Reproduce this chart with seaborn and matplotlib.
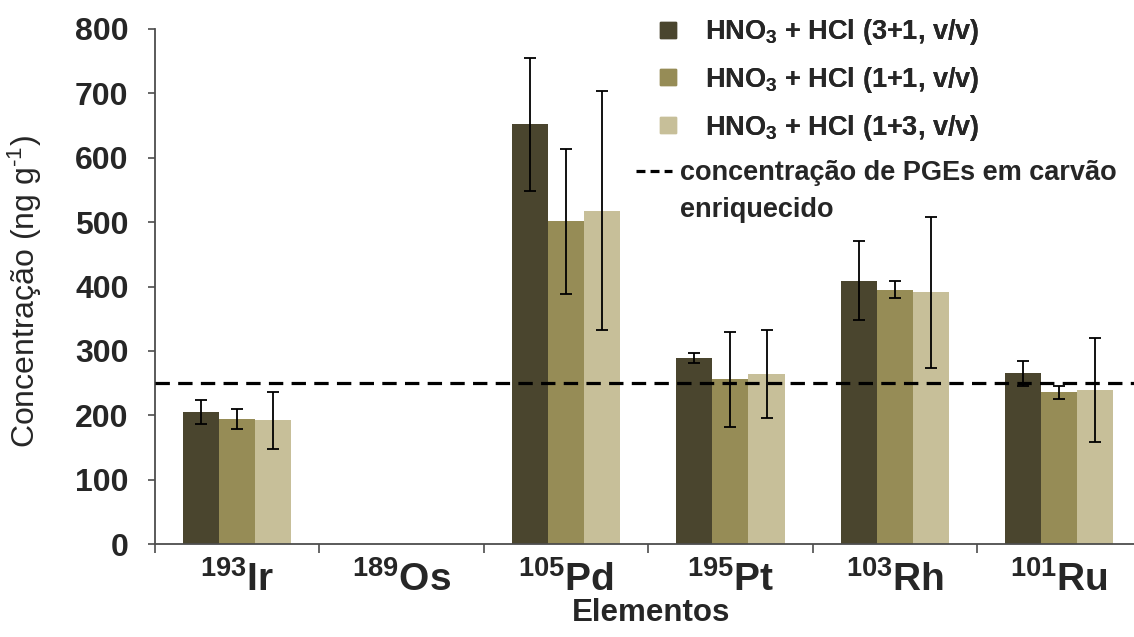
import numpy as np
import pandas as pd
import matplotlib
matplotlib.use("Agg")
import matplotlib.pyplot as plt
import seaborn as sns
from matplotlib.lines import Line2D

# ---------------- data ----------------
elements = ["Ir", "Os", "Pd", "Pt", "Rh", "Ru"]
mass_numbers = ["193", "189", "105", "195", "103", "101"]
methods = ["HNO3 + HCl (3+1, v/v)", "HNO3 + HCl (1+1, v/v)", "HNO3 + HCl (1+3, v/v)"]
method_labels = [r"HNO$_\mathbf{3}$ + HCl (3+1, v/v)",
                 r"HNO$_\mathbf{3}$ + HCl (1+1, v/v)",
                 r"HNO$_\mathbf{3}$ + HCl (1+3, v/v)"]
mean_31 = [205, np.nan, 652, 289, 409, 265]
mean_11 = [194, np.nan, 501, 256, 395, 236]
mean_13 = [192, np.nan, 518, 264, 391, 239]
sd_31 = [19, np.nan, 103, 8, 61, 19]
sd_11 = [15, np.nan, 113, 74, 13, 10]
sd_13 = [44, np.nan, 186, 69, 117, 81]
reference_level = 250
reference_label = "concentração de PGEs em carvão"
reference_label2 = "enriquecido"
colors = ["#4A452E", "#968C56", "#C7BF99"]

means = [mean_31, mean_11, mean_13]
sds = [sd_31, sd_11, sd_13]

df = pd.DataFrame({
    "elemento": [e for _ in methods for e in elements],
    "metodo": [m for m in methods for _ in elements],
    "valor": [v for ser in means for v in ser],
})

# ---------------- style ----------------
sns.set_style("ticks")
plt.rcParams['font.family'] = ['Liberation Sans', 'DejaVu Sans']
plt.rcParams['mathtext.fontset'] = 'custom'
plt.rcParams['mathtext.rm'] = 'Liberation Sans'
plt.rcParams['mathtext.bf'] = 'Liberation Sans:bold'
plt.rcParams['mathtext.it'] = 'Liberation Sans:italic'
plt.rcParams['mathtext.default'] = 'regular'

W, H = 1134, 637
fig = plt.figure(figsize=(W / 100, H / 100), dpi=100)
ax = fig.add_axes([155 / W, 93 / H, 979 / W, 515 / H])

sns.barplot(data=df, x="elemento", y="valor", hue="metodo", order=elements,
            hue_order=methods, palette=colors, width=0.66, errorbar=None,
            linewidth=0, saturation=1, ax=ax, legend=False)

# error bars at the bar centres
bar_containers = list(ax.containers)
for k, cont in enumerate(bar_containers):
    for p in cont.patches:
        h = p.get_height()
        if not np.isfinite(h) or h == 0:
            continue
        xc = p.get_x() + p.get_width() / 2
        j = int(round(xc))
        ax.errorbar(xc, h, yerr=sds[k][j], fmt='none', ecolor='black',
                    elinewidth=1.3, capsize=4.5, capthick=1.3, zorder=4)

ax.axhline(reference_level, color='black', lw=2.3, dashes=(4.5, 2.6), zorder=5)

ax.set_xlim(-0.5, 5.455)
ax.set_ylim(0, 800)
ax.set_yticks(range(0, 801, 100))
ax.set_xticks(range(len(elements)))
ax.set_xticklabels([r"$^{\mathbf{%s}}\mathbf{%s}$" % (m, e) for m, e in zip(mass_numbers, elements)],
                   fontsize=28)
ax.set_xticks(np.arange(-0.5, 5.0, 1.0), minor=True)
ax.tick_params(axis='x', which='major', length=0, pad=12)
ax.tick_params(axis='x', which='minor', length=6.5, width=1.2, color='#4d4d4d', direction='out')
ax.tick_params(axis='y', length=5, width=1.2, color='#4d4d4d', pad=14, labelsize=23)
for lbl in ax.get_yticklabels():
    lbl.set_fontweight('bold')

sns.despine(ax=ax)
for s in ['left', 'bottom']:
    ax.spines[s].set_color('#4d4d4d')
    ax.spines[s].set_linewidth(1.3)

ax.set_ylabel(r"Concentração (ng g$^{\text{-}1}$)", fontsize=23)
ax.yaxis.set_label_coords(-0.1135, 0.491)
ax.set_xlabel("Elementos", fontsize=22.5, fontweight='bold')
ax.xaxis.set_label_coords(0.5066, -0.104)

# legends
F = 19.5
handles1 = [Line2D([], [], ls='none', marker='s', markersize=11, markerfacecolor=c,
                   markeredgecolor=c) for c in colors]
leg1 = fig.legend(handles1, method_labels, loc='upper left',
                  bbox_to_anchor=(657 / W, 1 - 17 / H), frameon=False,
                  prop={'size': F, 'weight': 'bold'}, handlelength=0.8,
                  handletextpad=0.97, labelspacing=0.66, borderpad=0, borderaxespad=0)
handles2 = [Line2D([], [], color='black', lw=2.3, dashes=(2.8, 1.6)),
            Line2D([], [], ls='none')]
leg2 = fig.legend(handles2, [reference_label, reference_label2], loc='upper left',
                  bbox_to_anchor=(636 / W, 1 - 160 / H), frameon=False,
                  prop={'size': F, 'weight': 'bold'}, handlelength=1.33,
                  handletextpad=0.3, labelspacing=0.4, borderpad=0, borderaxespad=0)
fig.add_artist(leg1)

fig.savefig("out.png", dpi=100)
